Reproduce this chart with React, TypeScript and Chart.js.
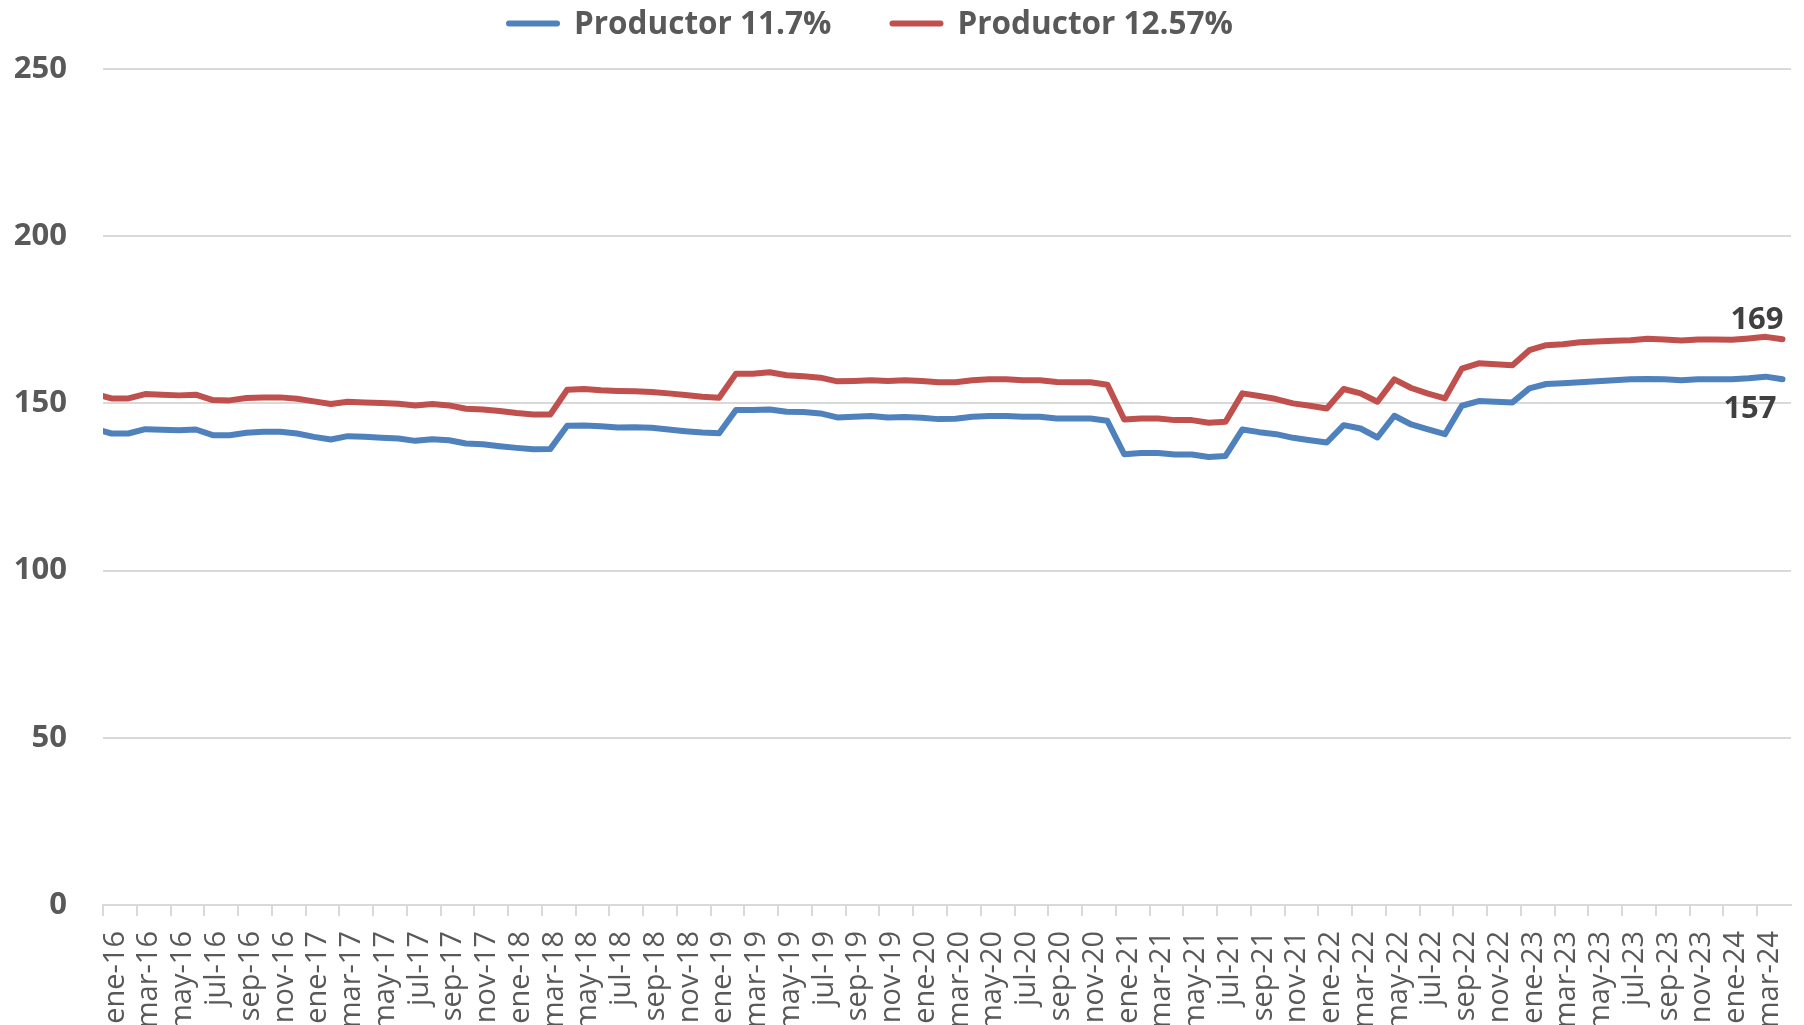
import React, { useEffect, useRef } from 'react';
import { Chart, registerables } from 'chart.js';

Chart.register(...registerables);

const FONT = "'Open Sans', 'Noto Sans', sans-serif";

// Month names (Spanish) used to build the category labels, dic-15 .. abr-24
const MONTHS = ['ene', 'feb', 'mar', 'abr', 'may', 'jun', 'jul', 'ago', 'sep', 'oct', 'nov', 'dic'];
const FIRST_VISIBLE = 'ene-16';
const LABELS: string[] = [];
for (let k = 0; k < 101; k++) {
  const m = (11 + k) % 12;
  const y = 15 + Math.floor((11 + k) / 12);
  LABELS.push(`${MONTHS[m]}-${y}`);
}

const SERIES_BLUE_NAME = 'Productor 11.7%';
const SERIES_RED_NAME = 'Productor 12.57%';

// dic-15 (clipped at the axis), then ene-16 .. abr-24
const BLUE = [
  142.4,
  141.0, 141.0, 142.3, 142.1, 142.0, 142.2, 140.5, 140.5, 141.2, 141.5, 141.5, 141.0,
  140.0, 139.2, 140.2, 140.0, 139.7, 139.5, 138.8, 139.3, 139.0, 138.0, 137.8, 137.2,
  136.7, 136.3, 136.4, 143.3, 143.4, 143.2, 142.8, 142.9, 142.7, 142.2, 141.7, 141.3,
  141.1, 148.0, 148.0, 148.2, 147.5, 147.4, 147.0, 145.8, 146.0, 146.2, 145.8, 145.9,
  145.7, 145.3, 145.4, 146.0, 146.2, 146.2, 146.0, 146.0, 145.5, 145.5, 145.5, 144.8,
  134.8, 135.2, 135.2, 134.7, 134.7, 134.0, 134.3, 142.2, 141.4, 140.8, 139.7, 139.0,
  138.3, 143.5, 142.5, 139.8, 146.3, 143.7, 142.2, 140.8, 149.3, 150.7, 150.5, 150.3,
  154.5, 155.8, 156.0, 156.3, 156.6, 156.9, 157.2, 157.3, 157.2, 156.9, 157.2, 157.2,
  157.2, 157.5, 158.0, 157.2,
];

const RED = [
  152.9,
  151.5, 151.5, 152.8, 152.6, 152.4, 152.6, 151.0, 150.9, 151.6, 151.8, 151.8, 151.4,
  150.6, 149.8, 150.5, 150.3, 150.1, 149.9, 149.4, 149.8, 149.4, 148.4, 148.2, 147.7,
  147.1, 146.7, 146.7, 154.1, 154.3, 153.9, 153.7, 153.6, 153.4, 153.0, 152.5, 152.0,
  151.7, 158.9, 158.9, 159.3, 158.4, 158.1, 157.7, 156.6, 156.7, 156.9, 156.7, 156.9,
  156.7, 156.3, 156.3, 156.9, 157.2, 157.2, 156.9, 156.9, 156.4, 156.3, 156.3, 155.6,
  145.2, 145.5, 145.5, 145.0, 145.0, 144.2, 144.5, 153.0, 152.2, 151.3, 150.0, 149.3,
  148.5, 154.3, 153.0, 150.5, 157.2, 154.6, 152.9, 151.5, 160.4, 162.0, 161.7, 161.4,
  165.9, 167.4, 167.7, 168.3, 168.5, 168.7, 168.9, 169.3, 169.1, 168.8, 169.1, 169.1,
  169.0, 169.4, 169.9, 169.2,
];

const Y_MIN = 0;
const Y_MAX = 250;
const Y_STEP = 50;

const BLUE_COLOR = '#4F81BD';
const RED_COLOR = '#C0504D';
const GRID_COLOR = '#d9d9d9';
const TEXT_COLOR = '#595959';
const LABEL_COLOR = '#404040';

const legendPlugin = {
  id: 'topLegend',
  afterDraw(chart: any) {
    const ctx = chart.ctx;
    ctx.save();
    ctx.font = `bold 31.5px ${FONT}`;
    ctx.textBaseline = 'alphabetic';
    ctx.textAlign = 'left';
    let x = 506;
    const lineY = 23.5;
    const textY = 33.5;
    chart.data.datasets.forEach((ds: any) => {
      ctx.strokeStyle = ds.borderColor;
      ctx.lineWidth = 6;
      ctx.lineCap = 'round';
      ctx.beginPath();
      ctx.moveTo(x + 3, lineY);
      ctx.lineTo(x + 51, lineY);
      ctx.stroke();
      x += 54 + 14;
      ctx.fillStyle = TEXT_COLOR;
      ctx.fillText(ds.label, x, textY);
      x += ctx.measureText(ds.label).width + 58;
    });
    ctx.restore();
  },
};

const endLabelPlugin = {
  id: 'endLabels',
  afterDatasetsDraw(chart: any) {
    const ctx = chart.ctx;
    ctx.save();
    ctx.font = `bold 31px ${FONT}`;
    ctx.fillStyle = LABEL_COLOR;
    ctx.textAlign = 'right';
    ctx.textBaseline = 'alphabetic';
    const offsets = [
      { dx: -6, dy: 39 }, // blue: below
      { dx: 1, dy: -10 }, // red: above
    ];
    chart.data.datasets.forEach((ds: any, di: number) => {
      const meta = chart.getDatasetMeta(di);
      const pt = meta.data[meta.data.length - 1];
      const v = ds.data[ds.data.length - 1];
      const o = offsets[di];
      ctx.fillText(String(Math.round(v)), pt.x + o.dx, pt.y + o.dy);
    });
    ctx.restore();
  },
};

export default function App() {
  const ref = useRef<HTMLCanvasElement | null>(null);

  useEffect(() => {
    if (!ref.current) return;
    const chart = new Chart(ref.current, {
      type: 'line',
      data: {
        labels: LABELS,
        datasets: [
          {
            label: SERIES_BLUE_NAME,
            data: BLUE,
            borderColor: BLUE_COLOR,
            backgroundColor: BLUE_COLOR,
          },
          {
            label: SERIES_RED_NAME,
            data: RED,
            borderColor: RED_COLOR,
            backgroundColor: RED_COLOR,
          },
        ],
      },
      options: {
        animation: false,
        responsive: true,
        maintainAspectRatio: false,
        layout: { padding: { top: 69, right: 13, bottom: 0, left: 0 } },
        plugins: {
          legend: { display: false },
          tooltip: { enabled: false },
        },
        elements: {
          point: { radius: 0, hoverRadius: 0 },
          line: {
            tension: 0,
            borderWidth: 6,
            borderCapStyle: 'round',
            borderJoinStyle: 'round',
          },
        },
        scales: {
          x: {
            type: 'category',
            min: FIRST_VISIBLE,
            offset: true,
            afterFit: (s: any) => {
              s.height = 120;
              s.paddingLeft = 0;
              s.paddingRight = 0;
            },
            grid: {
              display: true,
              drawOnChartArea: false,
              drawTicks: true,
              tickLength: 11,
              offset: true,
              lineWidth: 2,
              color: (c: any) => (c.index % 2 === 0 && c.index < 100 ? GRID_COLOR : 'rgba(0,0,0,0)'),
            },
            border: { display: true, color: GRID_COLOR, width: 2 },
            ticks: {
              autoSkip: false,
              minRotation: 90,
              maxRotation: 90,
              padding: 15,
              labelOffset: 4,
              color: TEXT_COLOR,
              font: { size: 29, family: FONT },
              callback: function (this: any, value: any, index: number) {
                return index % 2 === 0 ? this.getLabelForValue(value) : '';
              },
            },
          },
          y: {
            min: Y_MIN,
            max: Y_MAX,
            afterFit: (s: any) => {
              s.width = 103;
            },
            grid: { color: GRID_COLOR, lineWidth: 2, drawTicks: false },
            border: { display: false },
            ticks: {
              stepSize: Y_STEP,
              padding: 36,
              color: TEXT_COLOR,
              font: { size: 31, weight: 'bold', family: FONT },
            },
          },
        },
      },
      plugins: [legendPlugin, endLabelPlugin],
    } as any);
    return () => chart.destroy();
  }, []);

  return (
    <div style={{ position: 'fixed', left: 0, top: 0, width: 1804, height: 1025, background: '#fff' }}>
      <canvas ref={ref} />
    </div>
  );
}
